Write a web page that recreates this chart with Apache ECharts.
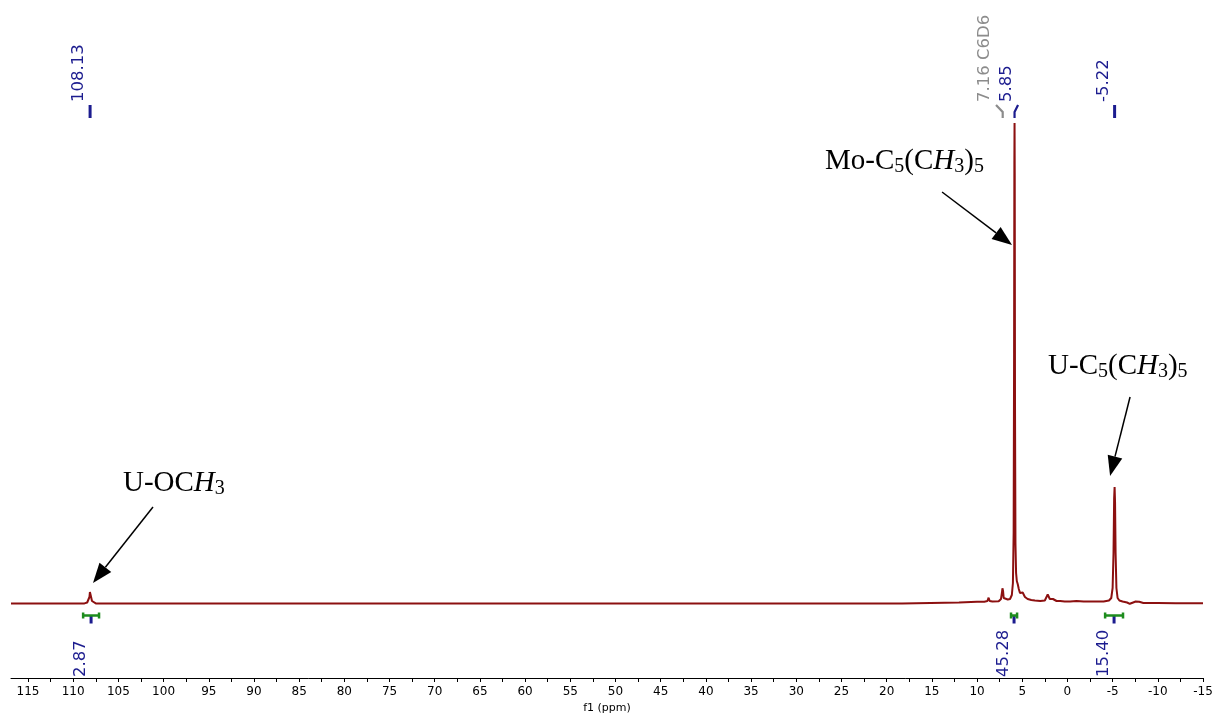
<!DOCTYPE html>
<html><head><meta charset="utf-8">
<script src="https://cdn.jsdelivr.net/npm/echarts@6/dist/echarts.min.js"></script>
<style>html,body{margin:0;padding:0;background:#fff}#c{width:1216px;height:717px}</style>
</head><body><div id="c"></div>
<script>
// ---- spectrum (ppm, intensity) ----
const ppm = [116.88, 110, 108.75, 108.45, 108.3, 108.2, 108.15, 108.13, 108.1, 108.02, 107.92, 107.8, 107.5,
  100, 80, 60, 40, 18.3, 18.1, 12, 10, 9.2, 8.85, 8.72, 8.6, 8.3, 7.6, 7.35, 7.25, 7.19, 7.16, 7.12, 7.05, 6.9,
  6.6, 6.35, 6.15, 6.03, 5.95, 5.9, 5.87, 5.85, 5.83, 5.8, 5.75, 5.68, 5.6, 5.5, 5.45, 5.38, 5.25, 5.1, 4.95,
  4.85, 4.7, 4.4, 4.0, 3.6, 3.0, 2.5, 2.3, 2.18, 2.1, 1.95, 1.75, 1.6, 1.45, 1.2, 0.8, 0.3, -0.3, -1, -1.8,
  -2.5, -3.3, -4, -4.6, -4.85, -5.0, -5.1, -5.17, -5.22, -5.27, -5.33, -5.42, -5.55, -5.75, -6.1, -6.6, -6.9,
  -7.2, -7.55, -7.75, -7.95, -8.4, -10, -12, -15];
const intensity = [-0.5, -0.5, -0.4, 0.5, 2, 6, 11, 12, 11, 6, 2, 0.5, -0.4,
  -0.5, -0.5, -0.4, -0.4, -0.5, 0.2, 0.5, 1.2, 1.3, 2, 5.3, 2, 1.5, 1.8, 4, 10, 14.7, 15, 12, 5, 3.5,
  3.5, 4, 8, 20, 70, 250, 440, 480, 430, 200, 60, 30, 22, 19, 18, 14, 10, 10, 10.5,
  9, 6, 4, 3, 2.5, 2, 2.5, 4, 8.5, 7, 4, 3.5, 4, 3, 2, 2, 1.5, 1.5, 2, 1.5,
  1.5, 1.5, 1.5, 2.5, 5, 15, 50, 105, 116, 100, 50, 15, 5, 2.5, 1.5, 0.5, -0.8,
  0.3, 1.5, 2.5, 1.2, 0, 0, -0.2, -0.3];

// ---- peak picking labels ----
const peakPpm = [108.13, 7.16, 5.85, -5.22];
const peakLabels = ['108.13', '7.16 C6D6', '5.85', '-5.22'];

// ---- integrals ----
const integralFrom = [108.9, 6.24, -4.17];
const integralTo = [107.14, 5.57, -6.15];
const integralLabels = ['2.87', '45.28', '15.40'];

// ---- axis ----
const tickLabelValues = [-15, -10, -5, 0, 5, 10, 15, 20, 25, 30, 35, 40, 45, 50, 55, 60, 65, 70, 75, 80, 85, 90, 95, 100, 105, 110, 115];
const tickMarkValues = [-15, -12.5, -10, -7.5, -5, -2.5, 0, 2.5, 5, 7.5, 10, 12.5, 15, 17.5, 20, 22.5, 25, 27.5, 30, 32.5,
  35, 37.5, 40, 42.5, 45, 47.5, 50, 52.5, 55, 57.5, 60, 62.5, 65, 67.5, 70, 72.5, 75, 77.5, 80, 82.5, 85, 87.5, 90,
  92.5, 95, 97.5, 100, 102.5, 105, 107.5, 110, 112.5, 115];

// ---- annotation texts ----
const annotationTexts = [
  '{a|Mo-C}{s|5}{a|(C}{i|H}{s|3}{a|)}{s|5}',
  '{a|U-C}{s|5}{a|(C}{i|H}{s|3}{a|)}{s|5}',
  '{a|U-OC}{i|H}{s|3}'
];

// layout (positions in axis units; not data)
const annotationLayout = [
  {text: [26.82, 426], from: [13.87, 411], to: [6.13, 358]},
  {text: [2.14, 221], from: [-6.93, 206], to: [-4.72, 127]},
  {text: [104.49, 104], from: [101.17, 96], to: [107.81, 20]}
];
const peakLabelShift = [0, -6.7, 3.5, 0];
const peakLabelColor = ['#1c1c8f', '#8c8c8c', '#1c1c8f', '#1c1c8f'];

const NAVY = '#1c1c8f', GREEN = '#1d8c1d', RED = '#8c1010';
const LABEL_FONT = '16.5px "DejaVu Sans"';

const chart = echarts.init(document.getElementById('c'), null, {renderer: 'canvas'});

const specData = ppm.map((p, i) => [p, intensity[i]]);

const option = {
  animation: false,
  backgroundColor: '#fff',
  grid: {left: 11, right: 13, top: 0, bottom: 39, containLabel: false, outerBoundsMode: 'none'},
  xAxis: {
    type: 'value', inverse: true, min: -15, max: 116.88, interval: 5,
    axisLine: {onZero: false, lineStyle: {color: '#000', width: 1}},
    axisTick: {customValues: tickMarkValues, length: 4, lineStyle: {color: '#000'}},
    axisLabel: {customValues: tickLabelValues, color: '#000', fontFamily: 'DejaVu Sans', fontSize: 12, margin: 8},
    splitLine: {show: false},
    name: 'f1 (ppm)', nameLocation: 'middle', nameGap: 24,
    nameTextStyle: {fontFamily: 'DejaVu Sans', fontSize: 11, color: '#000'}
  },
  yAxis: {type: 'value', min: -75, max: 603, show: false},
  series: [
    {
      type: 'line', data: specData, symbol: 'none', smooth: false,
      lineStyle: {color: RED, width: 2}, clip: false, z: 3
    },
    {
      type: 'custom', coordinateSystem: 'cartesian2d', clip: false, z: 4,
      data: peakPpm.map((p, i) => [p, i]),
      renderItem: function (params, api) {
        const i = api.value(1);
        const px = api.coord([api.value(0), 0])[0];
        const yText = api.coord([0, 501])[1];
        const yTop = api.coord([0, 498])[1];
        const yBend = api.coord([0, 491])[1];
        const yBot = api.coord([0, 485])[1];
        const lx = px - 11 + peakLabelShift[i];
        const col = peakLabelColor[i];
        const straight = Math.abs(peakLabelShift[i]) < 0.01;
        return {
          type: 'group', children: [
            {type: 'text', x: lx, y: yText, rotation: Math.PI / 2,
              style: {text: peakLabels[i], fill: col, font: LABEL_FONT, align: 'left', verticalAlign: 'middle'}},
            {type: 'polyline', shape: {points: straight ? [[px, yTop], [px, yBot]] : [[lx + 11, yTop], [px, yBend], [px, yBot]]},
              style: {stroke: col, lineWidth: straight ? 3 : 2.2, fill: null}}
          ]
        };
      }
    },
    {
      type: 'custom', coordinateSystem: 'cartesian2d', clip: false, z: 4,
      data: integralFrom.map((f, i) => [f, integralTo[i], i]),
      renderItem: function (params, api) {
        const i = api.value(2);
        const x1 = api.coord([api.value(0), 0])[0];
        const x2 = api.coord([api.value(1), 0])[0];
        const xc = (x1 + x2) / 2;
        const yb = api.coord([0, -12.5])[1];
        const yc1 = api.coord([0, -9.5])[1];
        const yc2 = api.coord([0, -15.5])[1];
        const yt2 = api.coord([0, -20.5])[1];
        const ytxt = api.coord([0, -74])[1];
        return {
          type: 'group', children: [
            {type: 'line', shape: {x1: xc, y1: yb, x2: xc, y2: yt2}, style: {stroke: NAVY, lineWidth: 3}},
            {type: 'line', shape: {x1: x1, y1: yb, x2: x2, y2: yb}, style: {stroke: GREEN, lineWidth: 2.5}},
            {type: 'line', shape: {x1: x1, y1: yc1, x2: x1, y2: yc2}, style: {stroke: GREEN, lineWidth: 2.5}},
            {type: 'line', shape: {x1: x2, y1: yc1, x2: x2, y2: yc2}, style: {stroke: GREEN, lineWidth: 2.5}},
            {type: 'text', x: xc - 10, y: ytxt, rotation: Math.PI / 2,
              style: {text: integralLabels[i], fill: NAVY, font: LABEL_FONT, align: 'left', verticalAlign: 'middle'}}
          ]
        };
      }
    },
    {
      type: 'custom', coordinateSystem: 'cartesian2d', clip: false, z: 5,
      data: annotationLayout.map((a, i) => [a.text[0], a.text[1], i]),
      renderItem: function (params, api) {
        const i = api.value(2);
        const L = annotationLayout[i];
        const t = api.coord(L.text);
        const s = api.coord(L.from);
        const e = api.coord(L.to);
        const dx = e[0] - s[0], dy = e[1] - s[1];
        const len = Math.sqrt(dx * dx + dy * dy);
        const ux = dx / len, uy = dy / len;
        const hl = 20, hw = 7.5;
        const bx = e[0] - ux * hl, by = e[1] - uy * hl;
        return {
          type: 'group', children: [
            {type: 'text', x: t[0], y: t[1],
              style: {text: annotationTexts[i], align: 'left', verticalAlign: 'bottom', fill: '#000',
                rich: {
                  a: {fontFamily: 'Liberation Serif', fontSize: 29, lineHeight: 32, fill: '#000'},
                  i: {fontFamily: 'Liberation Serif', fontSize: 29, lineHeight: 32, fontStyle: 'italic', fill: '#000'},
                  s: {fontFamily: 'Liberation Serif', fontSize: 20, lineHeight: 16, verticalAlign: 'bottom', fill: '#000'}
                }}},
            {type: 'line', shape: {x1: s[0], y1: s[1], x2: bx, y2: by}, style: {stroke: '#000', lineWidth: 1.5}},
            {type: 'polygon', shape: {points: [[e[0], e[1]], [bx - uy * hw, by + ux * hw], [bx + uy * hw, by - ux * hw]]},
              style: {fill: '#000'}}
          ]
        };
      }
    }
  ]
};
chart.setOption(option);
</script>
</body></html>
